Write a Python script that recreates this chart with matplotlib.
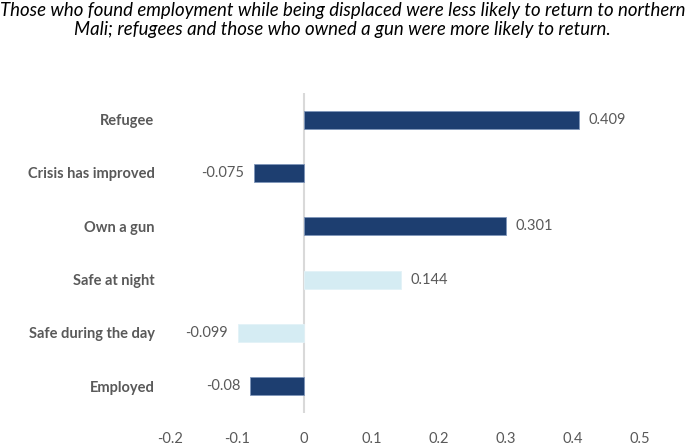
import matplotlib.pyplot as plt

categories = ["Refugee", "Crisis has improved", "Own a gun", "Safe at night",
              "Safe during the day", "Employed"]
values = [0.409, -0.075, 0.301, 0.144, -0.099, -0.08]
labels = ["0.409", "-0.075", "0.301", "0.144", "-0.099", "-0.08"]
significant = [True, True, True, False, False, True]
xticks = [-0.2, -0.1, 0, 0.1, 0.2, 0.3, 0.4, 0.5]
xtick_labels = ["-0.2", "-0.1", "0", "0.1", "0.2", "0.3", "0.4", "0.5"]

title = ("Those who found employment while being displaced were less likely to return to northern\n"
         "Mali; refugees and those who owned a gun were more likely to return.")

dark = "#1D3E70"
light = "#D5ECF3"
grey = "#595959"

plt.rcParams['font.family'] = ['Lato', 'DejaVu Sans']

fig = plt.figure(figsize=(6.85, 4.46), dpi=100)
ax = fig.add_axes([0.248, 0.074, 0.686, 0.7175])

colours = [dark if s else light for s in significant]
edges = ["#7F96BA" if s else "#E3F2F7" for s in significant]
pos = list(range(len(categories)))
ax.barh(pos, values, height=0.34, color=colours, edgecolor=edges, linewidth=0.6, zorder=2)
ax.axvline(0, color="#D9D9D9", linewidth=1.5, zorder=1)

for y, v, lab in zip(pos, values, labels):
    if v >= 0:
        ax.annotate(lab, (v, y), xytext=(7, 0), textcoords="offset points",
                    ha="left", va="center", fontsize=10.5, color=grey)
    else:
        ax.annotate(lab, (v, y), xytext=(-7, 0), textcoords="offset points",
                    ha="right", va="center", fontsize=10.5, color=grey)

ax.set_xlim(-0.2, 0.5)
ax.set_ylim(len(categories) - 0.5, -0.5)
ax.set_yticks(pos)
ax.set_yticklabels(categories, fontsize=10.5, fontweight="bold", color=grey)
ax.set_xticks(xticks)
ax.set_xticklabels(xtick_labels, fontsize=10.5, color=grey)
ax.tick_params(axis="y", length=0, pad=11)
ax.tick_params(axis="x", length=0, pad=14)
for sp in ax.spines.values():
    sp.set_visible(False)

fig.text(0.5, 0.995, title, ha="center", va="top", fontsize=13.4, style="italic",
         color="black", linespacing=1.15)

fig.savefig("out.png", dpi=100)
